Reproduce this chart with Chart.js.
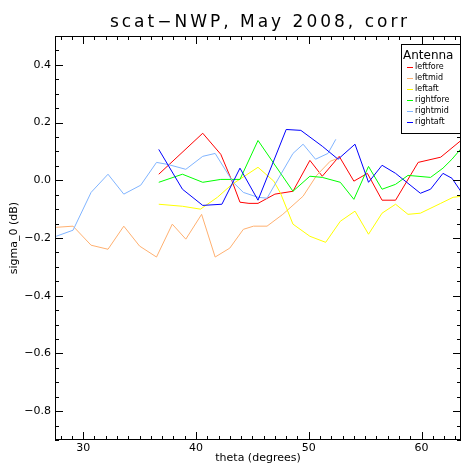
<!DOCTYPE html>
<html>
<head>
<meta charset="utf-8">
<script src="https://cdn.jsdelivr.net/npm/chart.js@4.4.0/dist/chart.umd.min.js"></script>
<style>
html, body { margin: 0; padding: 0; background: #fff; }
</style>
</head>
<body>
<canvas id="sigmaChart" width="462" height="465"></canvas>
<script>
// sigma_0 bias per antenna vs incidence angle
const chartTitle = 'scat\u2212NWP, May 2008, corr';
const antennas = ['leftfore', 'leftmid', 'leftaft', 'rightfore', 'rightmid', 'rightaft'];
const antennaColors = ['#ff0000', '#ffb070', '#ffff00', '#00ff00', '#80b4ff', '#0000ff'];
const xTickValues = [30, 40, 50, 60];
const yTickValues = [-0.8, -0.6, -0.4, -0.2, 0, 0.2, 0.4];

const thetaLeftFore = [36.7, 40.6, 42.2, 43.2, 43.9, 44.7, 45.5, 47.0, 48.6, 50.1, 51.2, 52.7, 54.0, 55.2, 56.5, 57.7, 59.7, 61.7, 63.5];
const sigmaLeftFore = [0.021, 0.163, 0.090, -0.003, -0.076, -0.080, -0.080, -0.048, -0.038, 0.069, 0.014, 0.083, -0.003, 0.024, -0.069, -0.069, 0.062, 0.080, 0.138];

const thetaLeftMid = [27.6, 29.1, 30.7, 32.2, 33.6, 35.0, 36.5, 37.9, 39.1, 40.5, 41.7, 43.0, 44.2, 45.1, 46.3, 47.7, 49.5, 50.7, 51.9, 52.6];
const sigmaLeftMid = [-0.163, -0.159, -0.225, -0.239, -0.159, -0.228, -0.266, -0.152, -0.204, -0.118, -0.266, -0.235, -0.170, -0.159, -0.159, -0.118, -0.055, 0.017, 0.066, 0.076];

const thetaLeftAft = [36.7, 38.8, 40.4, 41.9, 43.2, 45.5, 46.9, 47.5, 48.6, 50.1, 51.5, 52.8, 54.1, 55.3, 56.5, 57.7, 58.8, 59.9, 61.7, 62.8, 63.6];
const sigmaLeftAft = [-0.083, -0.090, -0.100, -0.059, -0.014, 0.045, -0.003, -0.045, -0.152, -0.194, -0.215, -0.142, -0.107, -0.187, -0.114, -0.083, -0.118, -0.114, -0.080, -0.059, -0.055];

const thetaRightFore = [36.7, 38.8, 40.6, 42.2, 43.9, 45.5, 48.6, 50.1, 51.2, 52.8, 54.0, 55.3, 56.5, 57.7, 58.8, 60.8, 61.9, 62.7, 63.6];
const sigmaRightFore = [-0.007, 0.021, -0.007, 0.003, 0.003, 0.138, -0.038, 0.014, 0.010, -0.007, -0.066, 0.048, -0.031, -0.014, 0.017, 0.010, 0.042, 0.073, 0.114];

const thetaRightMid = [27.6, 29.1, 30.7, 32.2, 33.6, 35.1, 36.5, 37.5, 39.1, 40.6, 41.7, 43.3, 44.2, 45.5, 46.3, 48.6, 49.5, 50.6, 51.7, 52.4];
const sigmaRightMid = [-0.194, -0.173, -0.042, 0.021, -0.048, -0.017, 0.062, 0.055, 0.038, 0.083, 0.093, -0.007, -0.042, -0.059, -0.062, 0.093, 0.125, 0.073, 0.093, 0.142];

const thetaRightAft = [36.7, 38.8, 40.6, 42.3, 43.9, 45.5, 48.0, 49.3, 51.2, 52.6, 54.1, 55.3, 56.5, 57.7, 59.9, 60.8, 61.9, 62.7, 63.6];
const sigmaRightAft = [0.107, -0.031, -0.087, -0.083, 0.042, -0.069, 0.176, 0.173, 0.118, 0.073, 0.125, -0.007, 0.052, 0.024, -0.045, -0.031, 0.024, 0.007, -0.045];

const thetaSets = [thetaLeftFore, thetaLeftMid, thetaLeftAft, thetaRightFore, thetaRightMid, thetaRightAft];
const sigmaSets = [sigmaLeftFore, sigmaLeftMid, sigmaLeftAft, sigmaRightFore, sigmaRightMid, sigmaRightAft];

const FONT = 'DejaVu Sans';

function pairUp(xs, ys) {
    return xs.map(function(v, i) { return {x: v, y: ys[i]}; });
}

// frame with inward ticks on all four sides, title and the antenna key
const framePlugin = {
    id: 'framePlugin',
    afterDraw: function(chart) {
        const ctx = chart.ctx;
        const a = chart.chartArea;
        const xs = chart.scales.x;
        const ys = chart.scales.y;
        ctx.save();
        ctx.strokeStyle = '#000';
        ctx.lineWidth = 1;
        ctx.strokeRect(a.left + 0.5, a.top + 0.5, a.right - a.left - 1, a.bottom - a.top - 1);

        ctx.beginPath();
        for (let t = 28; t <= 63; t++) {
            const px = Math.round(xs.getPixelForValue(t)) + 0.5;
            const len = t % 10 === 0 ? 8 : 4;
            ctx.moveTo(px, a.bottom); ctx.lineTo(px, a.bottom - len);
            ctx.moveTo(px, a.top); ctx.lineTo(px, a.top + len);
        }
        for (let k = -18; k <= 10; k++) {
            const v = k * 0.05;
            const py = Math.round(ys.getPixelForValue(v)) + 0.5;
            const len = k % 4 === 0 ? 8 : 4;
            ctx.moveTo(a.left, py); ctx.lineTo(a.left + len, py);
            ctx.moveTo(a.right, py); ctx.lineTo(a.right - len, py);
        }
        ctx.stroke();

        // title
        ctx.fillStyle = '#000';
        ctx.font = '17px "' + FONT + '"';
        ctx.letterSpacing = '3px';
        ctx.textAlign = 'center';
        ctx.textBaseline = 'alphabetic';
        ctx.fillText(chartTitle, (a.left + a.right) / 2 + 2, 27);
        ctx.letterSpacing = '0px';

        // key box
        const bx = 401, by = 44, bw = 59, bh = 89;
        ctx.fillStyle = '#fff';
        ctx.fillRect(bx, by, bw, bh);
        ctx.strokeRect(bx + 0.5, by + 0.5, bw, bh);
        ctx.fillStyle = '#000';
        ctx.font = '12px "' + FONT + '"';
        ctx.textAlign = 'left';
        ctx.fillText('Antenna', bx + 2, by + 15);
        ctx.font = '8px "' + FONT + '"';
        ctx.textBaseline = 'middle';
        chart.data.datasets.forEach(function(ds, i) {
            const ly = by + 23 + i * 11;
            ctx.strokeStyle = ds.borderColor;
            ctx.beginPath();
            ctx.moveTo(bx + 6, ly + 0.5);
            ctx.lineTo(bx + 12, ly + 0.5);
            ctx.stroke();
            ctx.fillStyle = '#000';
            ctx.fillText(ds.label, bx + 14, ly);
        });
        ctx.restore();
    }
};

const sigmaChart = new Chart(document.getElementById('sigmaChart').getContext('2d'), {
    type: 'line',
    data: {
        datasets: antennas.map(function(name, i) {
            return {
                label: name,
                data: pairUp(thetaSets[i], sigmaSets[i]),
                borderColor: antennaColors[i],
                borderWidth: 1,
                pointRadius: 0,
                tension: 0,
                fill: false,
                order: antennas.length - i
            };
        })
    },
    options: {
        responsive: false,
        animation: false,
        events: [],
        layout: { padding: { top: 36, right: 1, bottom: 0, left: 0 } },
        plugins: {
            legend: { display: false },
            title: { display: false },
            tooltip: { enabled: false }
        },
        scales: {
            x: {
                type: 'linear',
                min: 27.5,
                max: 63.5,
                afterBuildTicks: function(scale) {
                    scale.ticks = xTickValues.map(function(v) { return {value: v}; });
                },
                afterFit: function(scale) { scale.height = 25; },
                grid: { display: false, drawTicks: false },
                border: { display: false },
                ticks: {
                    color: '#000',
                    font: { family: FONT, size: 11 },
                    padding: 2,
                    maxRotation: 0,
                    callback: function(v) { return String(v); }
                },
                title: {
                    display: true,
                    text: 'theta (degrees)',
                    color: '#000',
                    font: { family: FONT, size: 11 },
                    padding: 0
                }
            },
            y: {
                type: 'linear',
                min: -0.9,
                max: 0.5,
                afterBuildTicks: function(scale) {
                    scale.ticks = yTickValues.map(function(v) { return {value: v}; });
                },
                afterFit: function(scale) { scale.width = 55; },
                grid: { display: false, drawTicks: false },
                border: { display: false },
                ticks: {
                    color: '#000',
                    font: { family: FONT, size: 11 },
                    padding: 4,
                    callback: function(v) {
                        return (v < -1e-9 ? '\u2212' : '') + Math.abs(v).toFixed(1);
                    }
                },
                title: {
                    display: true,
                    text: 'sigma_0 (dB)',
                    color: '#000',
                    font: { family: FONT, size: 11 },
                    padding: { top: 8, bottom: 0 }
                }
            }
        }
    },
    plugins: [framePlugin]
});
</script>
</body>
</html>
